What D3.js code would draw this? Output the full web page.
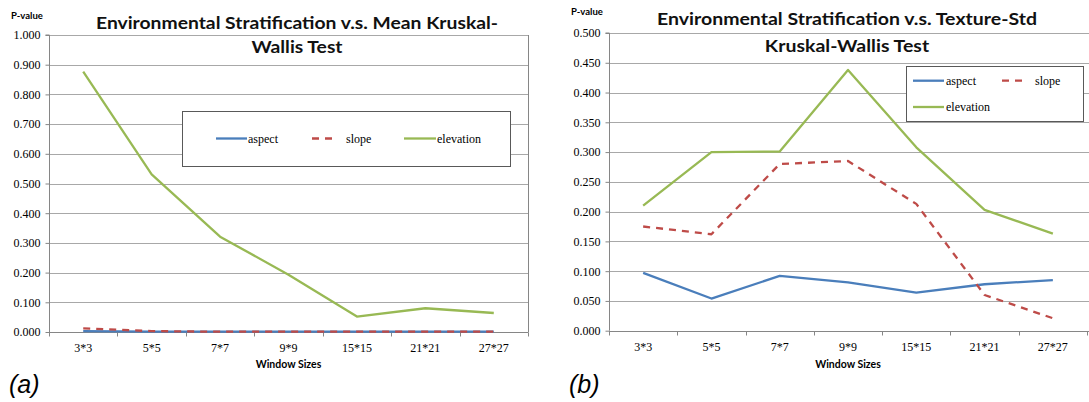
<!DOCTYPE html>
<html><head><meta charset="utf-8">
<script src="https://cdn.jsdelivr.net/npm/d3@7"></script>
<style>
html,body{margin:0;padding:0;background:#fff;}
svg{display:block;}
</style></head>
<body>
<svg id="chart" width="1089" height="402"></svg>
<script>
// ---------- data ----------
const categories = ["3*3","5*5","7*7","9*9","15*15","21*21","27*27"];
const seriesNames = ["aspect","slope","elevation"];

// (a) Mean Kruskal-Wallis
const meanAspect    = [0.003, 0.001, 0.001, 0.001, 0.001, 0.001, 0.001];
const meanSlope     = [0.012, 0.003, 0.001, 0.001, 0.001, 0.001, 0.001];
const meanElevation = [0.877, 0.531, 0.321, 0.193, 0.052, 0.080, 0.064];

// (b) Texture-Std Kruskal-Wallis
const stdAspect    = [0.097, 0.054, 0.092, 0.081, 0.064, 0.078, 0.085];
const stdSlope     = [0.175, 0.162, 0.280, 0.285, 0.213, 0.060, 0.021];
const stdElevation = [0.210, 0.300, 0.301, 0.438, 0.308, 0.203, 0.163];

const ticksA = [0,0.1,0.2,0.3,0.4,0.5,0.6,0.7,0.8,0.9,1.0];
const ticksB = [0,0.05,0.1,0.15,0.2,0.25,0.3,0.35,0.4,0.45,0.5];

const titleA = ["Environmental Stratification v.s. Mean Kruskal-","Wallis Test"];
const titleB = ["Environmental Stratification v.s. Texture-Std","Kruskal-Wallis Test"];
const yLabel = "P-value";
const xLabel = "Window Sizes";
const panelLabels = ["(a)","(b)"];

// ---------- styles ----------
const colors = {aspect:"#4a7ebb", slope:"#be4b48", elevation:"#98b954"};
const dashes = {aspect:null, slope:"7,6", elevation:null};
const gridColor = "#a8a8a8";
const axisColor = "#868686";
const serif = "'Liberation Serif', serif";
const sans = "Lato, 'Open Sans', sans-serif";
const titleSize = 17.5;

const svg = d3.select("#chart");

function measure(sel, text, size){
  const t = sel.append("text").text(text).attr("font-family",sans)
    .attr("font-weight","bold").attr("font-size",size);
  const w = t.node().getComputedTextLength();
  t.remove();
  return w;
}

function drawChart(cfg){
  const g = svg.append("g");
  const x = d3.scaleBand().domain(categories).range([cfg.x0, cfg.x1]);
  const y = d3.scaleLinear().domain([0, cfg.ymax]).range([cfg.yb, cfg.yt]);

  // gridlines
  g.append("g").selectAll("line").data(cfg.ticks.slice(1)).join("line")
    .attr("x1", cfg.x0).attr("x2", cfg.gridEnd)
    .attr("y1", d=>Math.round(y(d))+0.5).attr("y2", d=>Math.round(y(d))+0.5)
    .attr("stroke", gridColor).attr("stroke-width",1);

  // right border
  if (cfg.rightBorder){
    g.append("line").attr("x1",cfg.gridEnd+0.5).attr("x2",cfg.gridEnd+0.5)
      .attr("y1",Math.round(y(cfg.ymax))).attr("y2",Math.round(y(0))+0.5)
      .attr("stroke",axisColor).attr("stroke-width",1);
  }

  // y axis
  const yAxis = d3.axisLeft(y).tickValues(cfg.ticks).tickFormat(d3.format(".3f"))
    .tickSize(4).tickPadding(5);
  const ya = g.append("g").attr("transform",`translate(${cfg.x0+0.5},0)`).call(yAxis);
  ya.selectAll("path, line").attr("stroke",axisColor);
  ya.select(".domain").attr("d",`M-4,${y(cfg.ymax)}H0V${y(0)}`);
  ya.selectAll("text").attr("font-family",serif).attr("font-size",12).attr("fill","#000");

  // x axis with ticks at band boundaries
  const xa = g.append("g").attr("transform",`translate(0,${Math.round(y(0))+0.5})`);
  xa.append("line").attr("x1",cfg.x0).attr("x2",cfg.gridEnd).attr("stroke",axisColor);
  const bounds = categories.map(c=>x(c)).concat([x(categories[categories.length-1])+x.bandwidth()]);
  xa.selectAll("line.tk").data(bounds).join("line").attr("class","tk")
    .attr("x1",d=>Math.round(d)+0.5).attr("x2",d=>Math.round(d)+0.5)
    .attr("y1",0).attr("y2",4).attr("stroke",axisColor);
  xa.selectAll("text").data(categories).join("text")
    .attr("x",d=>x(d)+x.bandwidth()/2).attr("y",19)
    .attr("text-anchor","middle").attr("font-family",serif).attr("font-size",12)
    .text(d=>d);

  // series lines
  const line = d3.line().x((d,i)=>x(categories[i])+x.bandwidth()/2).y(d=>y(d));
  cfg.series.forEach((vals,k)=>{
    const name = seriesNames[k];
    g.append("path").datum(vals).attr("d",line).attr("fill","none")
      .attr("stroke",colors[name]).attr("stroke-width",2.3)
      .attr("stroke-dasharray",dashes[name]).attr("stroke-linejoin","round");
  });

  // titles (compressed horizontally to mimic a narrow font)
  const ratio = cfg.titleW / measure(g, cfg.title[0], titleSize);
  cfg.title.forEach((t,i)=>{
    const w = measure(g, t, titleSize) * ratio;
    g.append("text").attr("x",cfg.titleX).attr("y",cfg.titleY[i])
      .attr("text-anchor","middle").attr("font-family",sans).attr("font-weight","bold")
      .attr("font-size",titleSize).attr("fill","#111")
      .attr("textLength",w).attr("lengthAdjust","spacingAndGlyphs").text(t);
  });

  // axis titles
  g.append("text").attr("x",cfg.pvX).attr("y",cfg.pvY).attr("font-family",sans)
    .attr("font-weight","bold").attr("font-size",9.5).text(yLabel);
  g.append("text").attr("x",(cfg.x0+cfg.x1)/2).attr("y",368).attr("text-anchor","middle")
    .attr("font-family",sans).attr("font-weight","bold").attr("font-size",10.5).text(xLabel);

  // panel label
  g.append("text").attr("x",cfg.panelX).attr("y",393).attr("font-family","'Liberation Sans', Arial, sans-serif")
    .attr("font-style","italic").attr("font-size",25).text(cfg.panel);

  // legend
  const L = cfg.legend;
  g.append("rect").attr("x",L.x+0.5).attr("y",L.y+0.5).attr("width",L.w).attr("height",L.h)
    .attr("fill","#fff").attr("stroke","#595959").attr("stroke-width",1);
  L.items.forEach(it=>{
    const name = seriesNames[it.k];
    g.append("line").attr("x1",it.lx).attr("x2",it.lx+it.lw).attr("y1",it.y).attr("y2",it.y)
      .attr("stroke",colors[name]).attr("stroke-width",2.3).attr("stroke-dasharray",dashes[name]);
    g.append("text").attr("x",it.tx).attr("y",it.y+4).attr("font-family",serif)
      .attr("font-size",12).text(name);
  });
}

drawChart({
  x0:49, x1:528, gridEnd:528, yt:35, yb:332, ymax:1.0, ticks:ticksA,
  series:[meanAspect, meanSlope, meanElevation],
  title:titleA, titleW:402, titleX:297, titleY:[28.5,52.5],
  pvX:11, pvY:19, panel:panelLabels[0], panelX:9, rightBorder:true,
  legend:{x:182, y:111, w:328, h:55, items:[
    {k:0, y:138.5, lx:216, lw:31, tx:248},
    {k:1, y:138.5, lx:312, lw:23, tx:346},
    {k:2, y:138.5, lx:404, lw:32, tx:437}
  ]}
});

drawChart({
  x0:609, x1:1087, gridEnd:1089, yt:33, yb:330.7, ymax:0.5, ticks:ticksB,
  series:[stdAspect, stdSlope, stdElevation],
  title:titleB, titleW:380, titleX:847, titleY:[25,51.5],
  pvX:571, pvY:15, panel:panelLabels[1], panelX:569, rightBorder:false,
  legend:{x:906, y:66, w:177, h:55, items:[
    {k:0, y:80.7, lx:913, lw:31, tx:946},
    {k:1, y:80.7, lx:1002, lw:22, tx:1035},
    {k:2, y:107, lx:913, lw:31, tx:946}
  ]}
});
</script>
</body></html>
